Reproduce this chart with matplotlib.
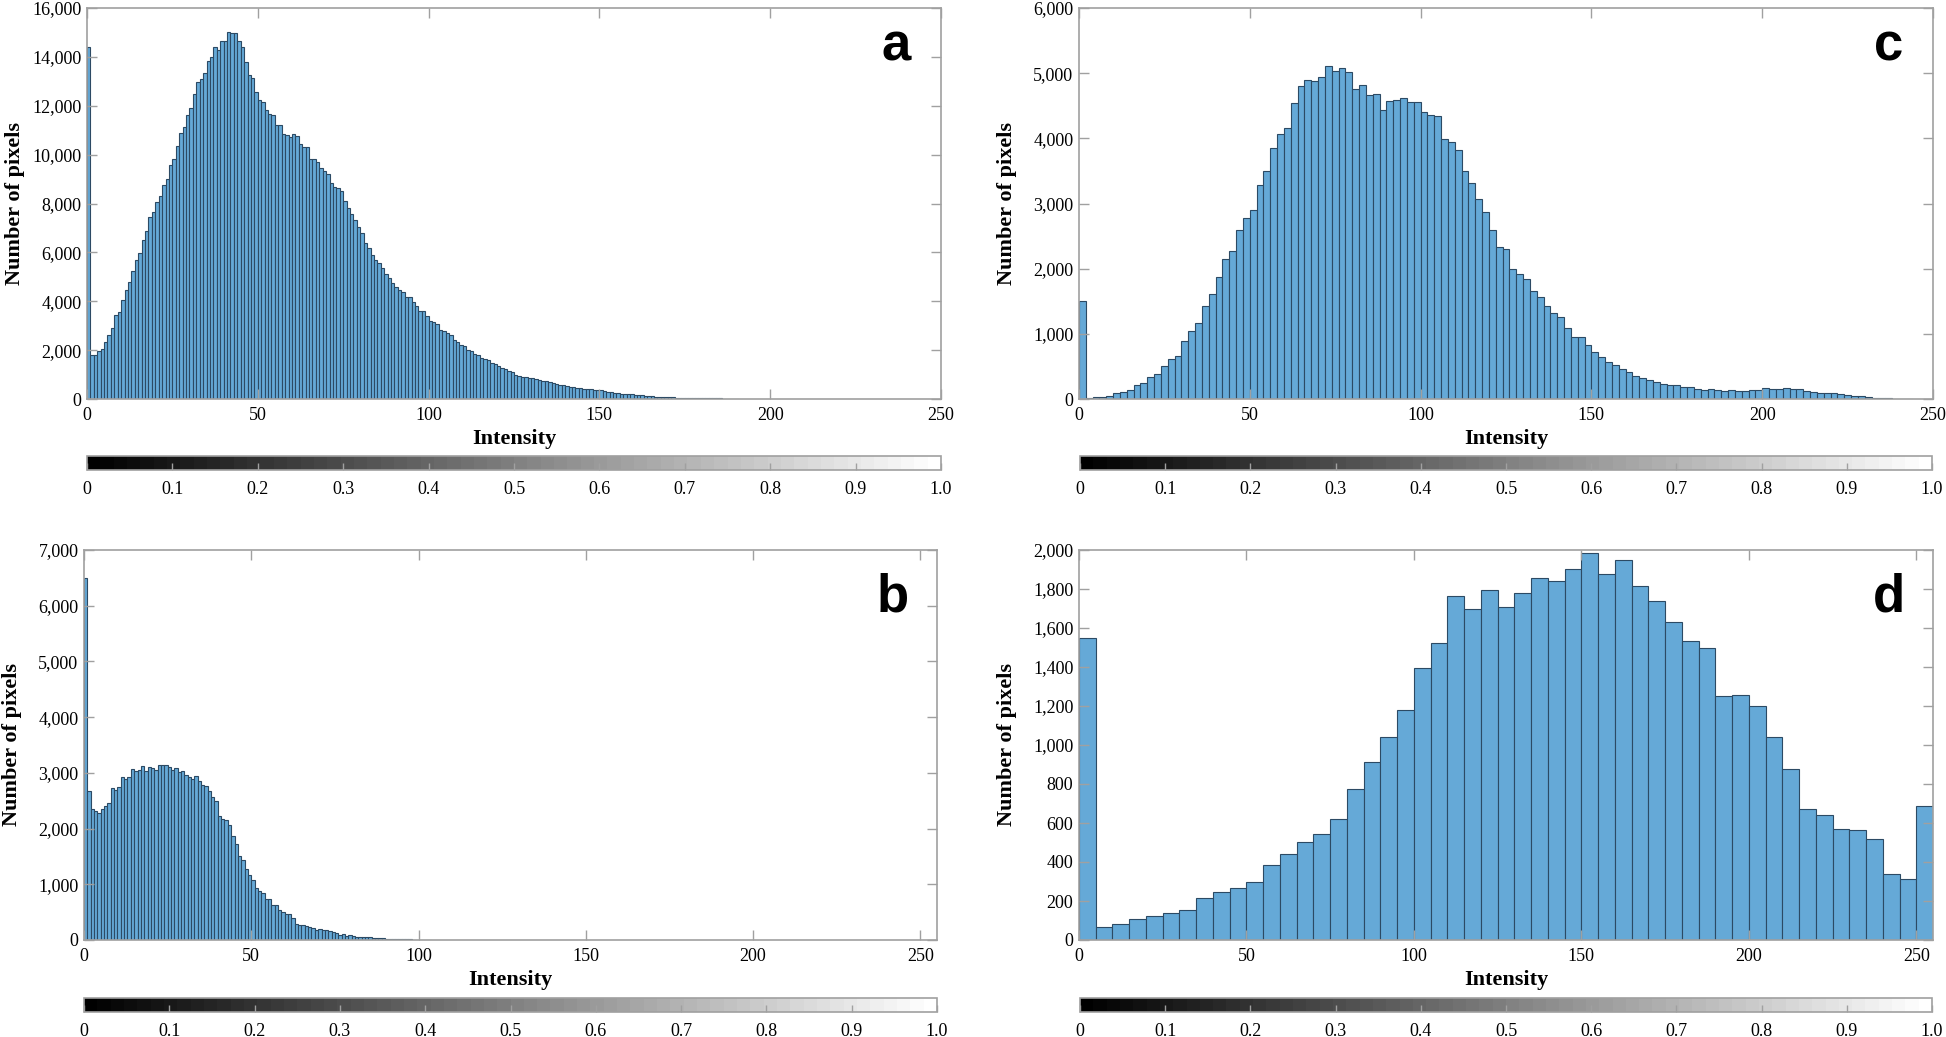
import numpy as np
import matplotlib
matplotlib.use("Agg")
import matplotlib.pyplot as plt
from matplotlib.ticker import FuncFormatter, MultipleLocator
from matplotlib.colorbar import ColorbarBase
from matplotlib.colors import Normalize

# ---------------- data ----------------
# Panel a: bin width 1 (intensities 0..)
hist_a = [14400, 1800, 1810, 1950, 2050, 2330, 2600, 2900, 3420, 3560,
          4060, 4450, 4800, 5250, 5700, 5975, 6520, 6860, 7460, 7650,
          8060, 8290, 8760, 9020, 9575, 9820, 10340, 10885, 11130, 11610,
          11920, 12490, 12960, 13110, 13340, 13830, 13990, 14420, 14300, 14640,
          14640, 15030, 14980, 14980, 14640, 14400, 13780, 13260, 13140, 12560,
          12250, 12150, 11810, 11680, 11640, 11230, 11230, 10850, 10820, 10720,
          10850, 10750, 10450, 10300, 10300, 9820, 9820, 9700, 9450, 9320,
          9220, 8840, 8660, 8620, 8500, 8120, 7820, 7580, 7310, 7050,
          6790, 6380, 6180, 5880, 5700, 5560, 5350, 5130, 4950, 4750,
          4580, 4470, 4370, 4160, 4160, 3970, 3790, 3610, 3590, 3380,
          3210, 3150, 3080, 2840, 2770, 2700, 2630, 2430, 2320, 2220,
          2150, 2020, 1970, 1860, 1810, 1680, 1640, 1580, 1480, 1430,
          1360, 1280, 1230, 1150, 1090, 1000, 955, 920, 900, 870,
          860, 800, 790, 740, 720, 680, 655, 610, 590, 560,
          545, 510, 490, 470, 450, 420, 410, 390, 380, 360,
          355, 320, 300, 270, 250, 230, 215, 205, 195, 190,
          170, 165, 150, 135, 120, 110, 100, 95, 85, 80,
          75, 70, 60, 55, 55, 50, 45, 40, 40, 35,
          30, 30, 28, 26, 25, 22, 20, 18, 15, 10, 5]

# Panel b: bin width 1
hist_b = [6500, 2667, 2357, 2315, 2286, 2357, 2405, 2464, 2726, 2685,
          2750, 2929, 2881, 2917, 3071, 3042, 3048, 3125, 3042, 3107,
          3089, 3048, 3149, 3149, 3137, 3107, 3060, 3089, 3018, 3030,
          2970, 2917, 2881, 2940, 2845, 2780, 2762, 2667, 2565, 2494,
          2226, 2167, 2155, 2060, 1866, 1723, 1515, 1431, 1271, 1164,
          1083, 938, 878, 839, 744, 732, 625, 625, 536, 506,
          464, 464, 387, 286, 268, 274, 256, 226, 214, 185,
          196, 173, 173, 155, 137, 125, 95, 101, 77, 83,
          65, 60, 60, 48, 48, 48, 42, 36, 30, 30,
          24, 18, 18, 24, 18, 18, 12, 12, 6, 6,
          5, 5, 5, 5]

# Panel c: bin width 2
hist_c = [1500, 15, 26, 31, 51, 92, 102, 133, 210, 251,
          338, 389, 512, 609, 665, 895, 1049, 1166, 1432, 1616,
          1872, 2148, 2276, 2598, 2783, 2895, 3284, 3504, 3847, 4061,
          4164, 4537, 4808, 4900, 4875, 4941, 5110, 5038, 5079, 5023,
          4752, 4813, 4665, 4680, 4440, 4573, 4593, 4624, 4552, 4552,
          4399, 4353, 4337, 3990, 3949, 3826, 3504, 3315, 3069, 2875,
          2598, 2332, 2302, 1995, 1923, 1847, 1657, 1560, 1422, 1320,
          1253, 1090, 946, 951, 834, 716, 639, 563, 527, 460,
          409, 358, 317, 297, 261, 235, 220, 210, 184, 184,
          153, 143, 153, 138, 128, 138, 128, 128, 138, 133,
          164, 159, 159, 164, 159, 153, 123, 107, 97, 97,
          92, 72, 56, 46, 41, 31, 20, 20, 10, 5,
          5, 2]

# Panel d: bin width 5
hist_d = [1550, 68, 82, 106, 121, 137, 152, 213, 247, 268,
          299, 387, 442, 503, 543, 618, 776, 913, 1041, 1179,
          1394, 1522, 1766, 1696, 1795, 1710, 1778, 1858, 1840, 1903,
          1983, 1879, 1949, 1817, 1737, 1631, 1534, 1497, 1253, 1258,
          1201, 1041, 877, 671, 643, 570, 563, 519, 336, 311,
          686]

bin_widths = {"a": 1, "b": 1, "c": 2, "d": 5}
x_limits = {"a": (0, 250), "b": (0, 255), "c": (0, 250), "d": (0, 255)}
y_limits = {"a": (0, 16000), "b": (0, 7000), "c": (0, 6000), "d": (0, 2000)}
y_steps = {"a": 2000, "b": 1000, "c": 1000, "d": 200}
x_ticks = [0, 50, 100, 150, 200, 250]
cbar_ticks = [0, 0.1, 0.2, 0.3, 0.4, 0.5, 0.6, 0.7, 0.8, 0.9, 1.0]
cbar_labels = ["0", "0.1", "0.2", "0.3", "0.4", "0.5", "0.6", "0.7", "0.8", "0.9", "1.0"]

# ---------------- style ----------------
W, H = 1946, 1037
plt.rcParams["font.family"] = ["Liberation Serif", "DejaVu Serif"]
BAR_FACE = "#65a9d7"
BAR_EDGE = "#2c4a64"
SPINE = "#a0a0a0"

fig = plt.figure(figsize=(W / 100, H / 100), dpi=100)


def px_axes(x0, y0, x1, y1):
    return fig.add_axes([x0 / W, 1 - y1 / H, (x1 - x0) / W, (y1 - y0) / H])


panels = {
    "a": (hist_a, (87, 8, 941, 399), (87, 456, 941, 470)),
    "c": (hist_c, (1079, 8, 1933, 399), (1080, 456, 1932, 470)),
    "b": (hist_b, (84, 550, 937, 940), (84, 998, 937, 1012)),
    "d": (hist_d, (1079, 550, 1933, 940), (1080, 998, 1932, 1012)),
}

label_y = {"a": 0.867, "c": 0.867, "b": 0.842, "d": 0.842}

for key, (vals, box, cbox) in panels.items():
    ax = px_axes(*box)
    w = bin_widths[key]
    lefts = np.arange(len(vals)) * w
    ax.bar(lefts, vals, width=w, align="edge", color=BAR_FACE,
           edgecolor=BAR_EDGE, linewidth=0.8)
    ax.set_xlim(*x_limits[key])
    ax.set_ylim(*y_limits[key])
    ax.set_xticks(x_ticks)
    ax.yaxis.set_major_locator(MultipleLocator(y_steps[key]))
    ax.yaxis.set_major_formatter(FuncFormatter(lambda v, p: f"{int(round(v)):,}"))
    ax.tick_params(direction="in", length=7, width=1, color=SPINE,
                   top=True, right=True, labelsize=13, pad=4)
    ax.tick_params(axis="x", pad=6)
    for s in ax.spines.values():
        s.set_color(SPINE)
        s.set_linewidth(1.2)
    ax.set_xlabel("Intensity", fontsize=16, fontweight="bold", labelpad=3)
    ax.set_ylabel("Number of pixels", fontsize=16, fontweight="bold")
    ax.yaxis.set_label_coords(-62 / (box[2] - box[0]), 0.5)
    ax.text(0.948, label_y[key], key, transform=ax.transAxes, ha="center",
            va="baseline", fontsize=38, fontweight="bold",
            family=["Liberation Sans", "DejaVu Sans"])

    cax = px_axes(*cbox)
    cb = ColorbarBase(cax, cmap=plt.get_cmap("gray", 64), norm=Normalize(0, 1),
                      orientation="horizontal")
    cb.set_ticks(cbar_ticks)
    cb.set_ticklabels(cbar_labels)
    cax.tick_params(direction="in", length=5, width=1, color=SPINE,
                    labelsize=13, pad=8)
    cb.outline.set_edgecolor(SPINE)
    cb.outline.set_linewidth(1.2)

fig.savefig("out.png", dpi=100)
